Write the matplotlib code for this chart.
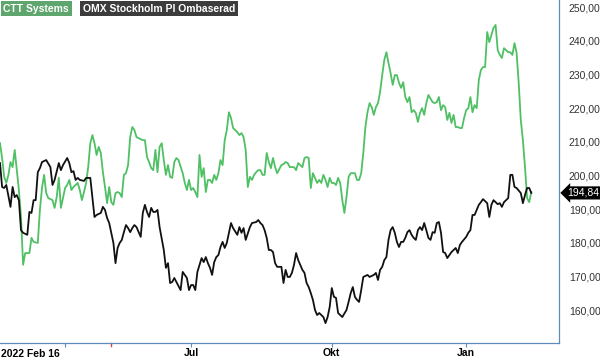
import matplotlib.pyplot as plt
from matplotlib.ticker import FuncFormatter

# trading-day index from 2022-02-16
black_day = [0, 1, 2, 3, 5, 6, 7, 8, 9, 10, 11, 13, 14, 15, 16, 17, 18, 19, 20, 22,
             24, 25, 26, 28, 29, 30, 32, 33, 34, 35, 36, 37, 38, 40, 41, 43, 45, 46, 48, 49,
             50, 51, 52, 54, 55, 56, 57, 58, 59, 60, 61, 62, 63, 64, 65, 67, 68, 69, 70, 71,
             72, 73, 74, 75, 76, 78, 79, 80, 81, 82, 83, 84, 86, 87, 88, 89, 90, 91, 92, 93,
             94, 96, 97, 98, 99, 100, 101, 102, 103, 104, 105, 106, 107, 108, 109, 110, 111, 113, 114, 115,
             116, 117, 119, 120, 122, 123, 124, 125, 126, 127, 128, 129, 130, 131, 132, 134, 135, 136, 137, 138,
             139, 140, 141, 142, 144, 145, 146, 147, 148, 149, 150, 151, 152, 154, 155, 156, 157, 158, 159, 160,
             161, 162, 163, 165, 166, 167, 168, 169, 170, 171, 172, 173, 175, 176, 178, 179, 180, 181, 182, 183,
             184, 185, 186, 187, 188, 189, 190, 191, 192, 193, 194, 195, 196, 197, 198, 199, 200, 201, 202, 203,
             204, 205, 206, 207, 208, 209, 210, 211, 212, 213, 214, 215, 216, 217, 218, 219, 220, 222, 223, 224,
             225, 226, 227, 228, 229, 230, 232, 233, 234, 235, 237, 238, 239, 240, 242, 243, 244, 245, 246, 248,
             249, 250, 251, 252, 253]
black_val = [203.7, 196.6, 196.3, 197.2, 190.7, 196.6, 193.6, 194.2, 192.7, 183.8, 183.0, 182.4, 189.2, 188.9, 192.7, 192.7, 201.0, 202.2, 204.0, 204.6,
             202.5, 197.2, 198.7, 203.7, 201.6, 203.1, 205.2, 203.7, 201.0, 201.3, 198.7, 199.3, 198.7, 198.4, 199.3, 199.3, 187.7, 188.3, 188.9, 190.7,
             189.8, 187.4, 185.9, 180.0, 174.0, 178.5, 180.0, 180.9, 183.2, 185.3, 184.4, 183.2, 184.4, 185.3, 184.7, 181.8, 188.9, 191.3, 189.2, 187.7,
             190.4, 189.2, 189.2, 189.8, 184.7, 177.9, 172.6, 174.0, 168.1, 168.4, 169.6, 168.4, 166.0, 171.4, 170.5, 169.6, 166.0, 167.5, 167.5, 166.0,
             171.4, 175.5, 174.3, 175.8, 174.0, 172.6, 170.5, 174.3, 175.8, 176.4, 178.8, 180.3, 178.5, 180.0, 183.0, 185.9, 184.4, 182.4, 184.7, 183.0,
             184.4, 180.9, 184.7, 185.9, 186.2, 186.8, 185.9, 185.3, 183.8, 181.5, 177.9, 177.9, 177.3, 174.0, 172.9, 172.9, 168.1, 172.0, 169.9, 169.9,
             171.1, 173.5, 177.0, 174.9, 172.0, 171.1, 168.1, 166.9, 165.1, 163.1, 160.1, 158.6, 159.2, 158.0, 156.2, 158.0, 161.0, 166.6, 164.0, 163.7,
             159.2, 158.6, 158.0, 160.1, 162.5, 165.1, 166.9, 164.0, 163.1, 162.5, 166.0, 169.9, 170.5, 169.9, 170.5, 171.1, 169.0, 172.0, 172.9, 174.9,
             175.8, 180.9, 183.8, 184.7, 183.0, 180.3, 178.8, 180.3, 180.3, 181.5, 183.2, 183.8, 182.4, 181.5, 180.9, 183.8, 184.7, 183.8, 185.9, 183.8,
             181.5, 180.9, 183.2, 183.0, 185.9, 186.2, 183.0, 177.3, 177.0, 175.5, 176.4, 177.3, 177.9, 178.5, 177.0, 179.4, 180.3, 181.8, 183.0, 183.8,
             188.3, 188.3, 189.8, 191.3, 192.1, 193.0, 191.8, 187.7, 191.3, 192.7, 191.5, 191.8, 190.7, 192.1, 193.3, 200.2, 200.2, 196.6, 196.3, 194.8,
             191.8, 194.2, 196.3, 196.3, 194.84]

green_day = [0, 1, 2, 3, 4, 5, 6, 7, 8, 9, 10, 11, 12, 13, 14, 15, 16, 18, 19, 20,
             21, 22, 23, 25, 26, 27, 28, 29, 30, 31, 32, 33, 34, 35, 37, 38, 39, 40, 41, 42,
             43, 44, 45, 46, 47, 48, 49, 50, 51, 52, 53, 54, 55, 56, 57, 58, 59, 60, 61, 62,
             63, 64, 65, 66, 68, 69, 70, 71, 72, 73, 74, 75, 76, 77, 78, 79, 80, 81, 82, 83,
             84, 85, 87, 88, 89, 90, 91, 92, 93, 94, 95, 96, 97, 98, 99, 100, 101, 102, 103, 104,
             105, 106, 107, 108, 109, 110, 111, 112, 113, 114, 115, 116, 117, 118, 119, 120, 121, 122, 123, 124,
             125, 126, 127, 128, 129, 130, 131, 132, 134, 135, 136, 137, 138, 139, 140, 141, 142, 144, 145, 146,
             147, 148, 149, 150, 151, 152, 153, 154, 155, 156, 157, 158, 159, 160, 161, 162, 163, 164, 165, 166,
             167, 169, 170, 171, 172, 173, 174, 175, 176, 177, 178, 179, 180, 181, 182, 183, 184, 185, 186, 187,
             188, 189, 190, 191, 192, 193, 194, 195, 196, 197, 198, 199, 200, 201, 202, 203, 204, 206, 207, 208,
             209, 210, 211, 212, 213, 214, 215, 216, 217, 218, 219, 220, 221, 222, 223, 224, 225, 226, 227, 228,
             229, 230, 231, 232, 233, 234, 235, 236, 237, 238, 239, 240, 241, 242, 243, 244, 245, 246, 247, 248,
             249, 250, 251, 252, 253]
green_val = [209.6, 205.2, 199.6, 197.8, 200.2, 204.0, 202.5, 207.6, 201.6, 195.7, 187.7, 173.5, 177.0, 177.0, 177.0, 181.5, 180.3, 180.0, 189.8, 196.3,
             200.2, 194.8, 193.3, 192.7, 190.4, 193.6, 199.3, 190.4, 193.3, 196.3, 197.2, 198.7, 195.7, 196.6, 197.8, 195.7, 192.7, 195.1, 197.8, 202.5,
             209.6, 212.0, 209.6, 206.1, 208.5, 206.7, 201.0, 196.6, 191.8, 196.6, 192.1, 191.3, 194.8, 195.1, 194.8, 193.6, 200.2, 200.7, 203.1, 211.4,
             214.4, 213.5, 211.4, 211.1, 210.5, 210.5, 205.5, 204.0, 202.2, 201.6, 207.6, 201.0, 208.5, 209.6, 204.6, 200.2, 203.1, 199.6, 199.3, 204.0,
             205.2, 204.6, 200.7, 197.8, 195.7, 198.7, 195.7, 196.3, 195.1, 193.6, 206.1, 199.6, 202.2, 195.1, 198.7, 198.7, 197.8, 200.2, 198.7, 200.7,
             204.6, 203.1, 210.5, 213.5, 218.8, 217.1, 214.1, 213.5, 212.9, 212.0, 212.6, 211.4, 207.6, 196.6, 199.6, 198.7, 200.2, 201.0, 201.6, 201.6,
             200.2, 200.2, 206.7, 204.0, 202.2, 205.2, 202.5, 200.7, 203.1, 203.4, 204.0, 203.7, 202.5, 202.5, 202.5, 201.6, 203.7, 202.5, 205.2, 205.5,
             205.2, 196.3, 200.7, 199.3, 197.8, 198.7, 197.8, 200.2, 198.7, 196.6, 199.3, 197.8, 197.8, 197.2, 199.3, 197.8, 192.7, 188.9, 193.6, 199.6,
             200.7, 200.7, 198.7, 198.7, 200.7, 206.7, 214.4, 218.8, 221.5, 220.3, 218.0, 220.3, 221.5, 224.8, 229.8, 234.3, 236.6, 233.4, 230.4, 226.9,
             229.8, 229.8, 227.5, 226.0, 227.7, 223.3, 221.8, 223.3, 218.8, 219.4, 218.6, 215.9, 218.6, 220.0, 218.0, 221.5, 223.9, 221.8, 221.5, 221.8,
             223.3, 219.4, 220.9, 220.3, 216.5, 218.6, 215.6, 218.0, 214.4, 214.4, 214.1, 214.1, 217.1, 219.4, 220.0, 223.3, 218.8, 220.9, 220.0, 228.3,
             231.3, 232.2, 232.2, 242.6, 239.6, 241.7, 243.8, 244.7, 237.2, 235.8, 234.9, 237.8, 237.2, 236.6, 236.6, 235.8, 239.3, 236.4, 227.5, 216.5,
             210.5, 202.5, 193.3, 192.1, 195.1]

quarter_days = [31, 91, 158, 222]
quarter_labels = ["", "Jul", "Okt", "Jan"]
report_day = 53
last_price = 194.84

plt.rcParams["font.family"] = ["Liberation Sans", "DejaVu Sans"]

fig = plt.figure(figsize=(6, 3.59), dpi=100)
ax = fig.add_axes([0, 0.0446, 0.9317, 0.9554])

ax.plot(green_day, green_val, color="#4fc064", linewidth=1.3)
ax.plot(black_day, black_val, color="#111111", linewidth=1.3)

ax.set_xlim(0, 266.2)
ax.set_ylim(150.3, 252.1)

for side in ["left", "top"]:
    ax.spines[side].set_visible(False)
for side in ["right", "bottom"]:
    ax.spines[side].set_color("#5b8db8")
    ax.spines[side].set_linewidth(0.9)

ax.yaxis.tick_right()
ax.set_yticks(range(160, 251, 10))
ax.yaxis.set_major_formatter(FuncFormatter(lambda v, p: f"{v:.2f}".replace(".", ",")))
ax.tick_params(axis="y", length=0, pad=7, labelsize=7.5, labelcolor="#333333")

ax.set_xticks(quarter_days)
ax.set_xticklabels(quarter_labels, fontweight="bold")
ax.tick_params(axis="x", length=3, width=0.8, color="#5b8db8", pad=0.5, labelsize=7.5)
ax.text(0.002, -0.032, "2022 Feb 16", transform=ax.transAxes, fontsize=7.5,
        fontweight="bold", ha="left", va="center")
ax.plot([report_day, report_day], [0, -0.01], color="#e04040", linewidth=1,
        transform=ax.get_xaxis_transform(), clip_on=False)

# legend tags
ax.text(0.006, 0.975, "CTT Systems", transform=ax.transAxes, fontsize=7.5,
        fontweight="bold", color="white", ha="left", va="center",
        bbox=dict(boxstyle="square,pad=0.25", facecolor="#5fa56e", edgecolor="none"))
ax.text(0.148, 0.975, "OMX Stockholm PI Ombaserad", transform=ax.transAxes, fontsize=7.5,
        fontweight="bold", color="white", ha="left", va="center",
        bbox=dict(boxstyle="square,pad=0.25", facecolor="#3c3c3c", edgecolor="none"))

# last price tag
ax.annotate(f"{last_price:.2f}".replace(".", ","), xy=(1.0, last_price),
            xycoords=("axes fraction", "data"), xytext=(6, 0), textcoords="offset points",
            fontsize=7.5, color="white", ha="left", va="center", annotation_clip=False,
            bbox=dict(boxstyle="larrow,pad=0.15", facecolor="black", edgecolor="none"))

fig.savefig("out.png", dpi=100)
